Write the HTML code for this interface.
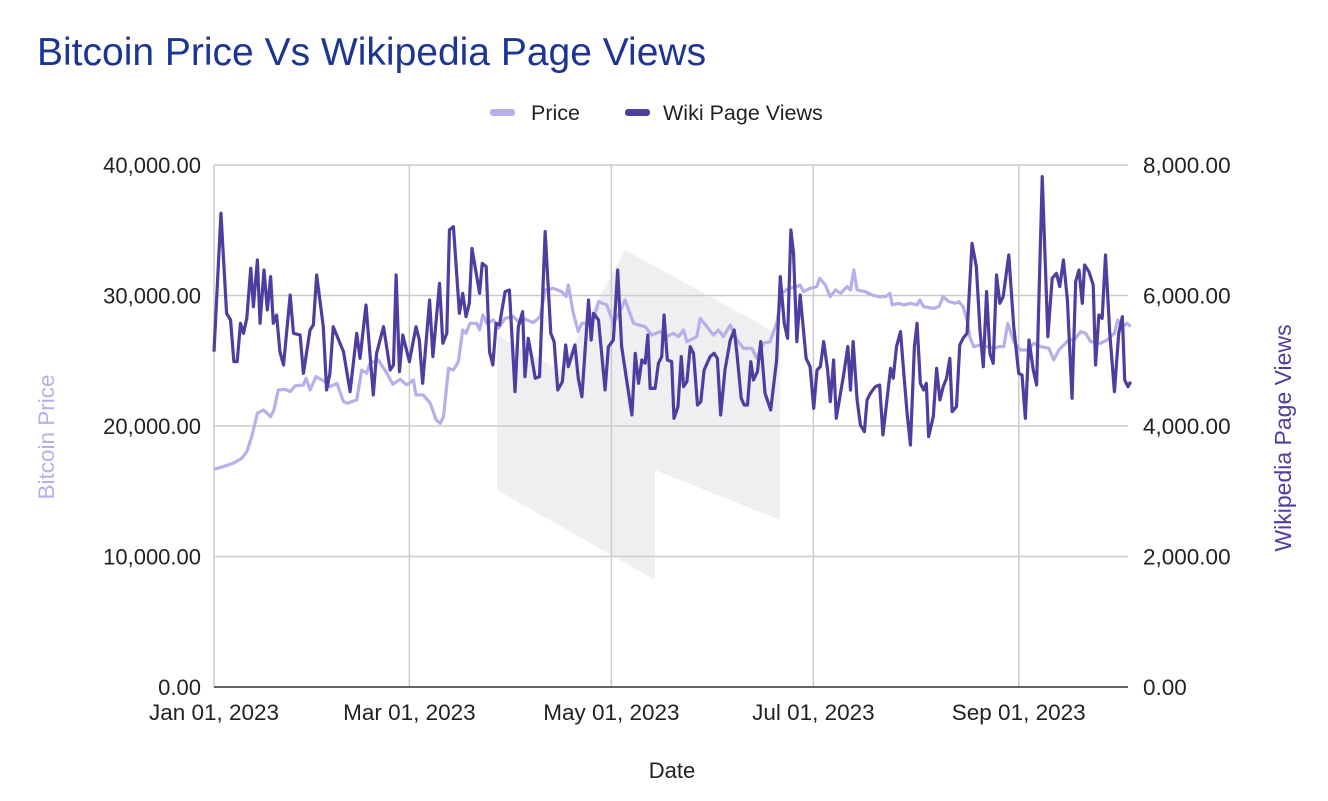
<!DOCTYPE html>
<html><head><meta charset="utf-8"><style>
body{margin:0;background:#fff;width:1328px;height:796px;overflow:hidden;font-family:"Liberation Sans",Arial,sans-serif}
</style></head><body>
<svg id="chart" width="1328" height="796" xmlns="http://www.w3.org/2000/svg" font-family="Liberation Sans, Arial, sans-serif">
<text x="37" y="65" font-size="39" fill="#1d3592">Bitcoin Price Vs Wikipedia Page Views</text>
<g>
<g><rect x="490" y="109" width="25" height="7" rx="3" fill="#b8aeea"/><text x="531" y="120" font-size="21.5" fill="#222">Price</text></g>
<g><rect x="625" y="109" width="25" height="7" rx="3" fill="#4e3ea0"/><text x="663" y="120" font-size="21.5" fill="#222">Wiki Page Views</text></g>
</g>
<polygon points="497,335 560,370 625,250 780,335 780,520 655,470 655,580 497,490" fill="#efeff2"/>
<g id="grid"></g>
<g id="axes"></g>
<g id="series"></g>
<text x="672" y="778" font-size="22" text-anchor="middle" fill="#222">Date</text>
<text transform="translate(54,437) rotate(-90)" font-size="22.5" text-anchor="middle" fill="#b8aeea">Bitcoin Price</text>
<text transform="translate(1291,438) rotate(-90)" font-size="23" text-anchor="middle" fill="#4e3ea0">Wikipedia Page Views</text>
</svg>
<script>
const leftTicks=[0,10000,20000,30000,40000];
const rightTicks=[0,2000,4000,6000,8000];
const xTickDays=[0,59,120,181,243];
const xTickLabels=["Jan 01, 2023","Mar 01, 2023","May 01, 2023","Jul 01, 2023","Sep 01, 2023"];
const wikiDays=[0,2.1,3.8,5,6,7,8,8.9,9.9,11.1,11.9,13.1,13.9,15.1,16.1,17.1,17.9,18.9,19.9,21,23,24,26,27,29,30,31,33,34,35,36,39.1,41.1,43.1,44.1,45.9,48.1,49.1,51.2,53.2,54.2,55,56,57,59,61,62,63,65.1,66.1,68.1,69.1,70.3,71.1,72.3,74.1,75.1,76.1,77.1,77.9,80.2,81,82.2,83.2,84.2,85.2,86.2,87.9,89.2,90.9,91.9,93.2,93.9,94.9,95.9,97,98.3,100,101.7,102.7,103.8,105.2,106.2,107,109,110,111.1,113.1,113.9,114.6,116.1,118.1,119.1,120.6,121.9,123.1,124.6,126.2,127.2,128.2,129.2,130.2,131,131.7,133.2,134.2,135.2,135.9,136.9,138.2,138.9,140.1,141.1,141.8,142.8,143.8,144.8,146,147,148,149.8,151,152,153,154.3,155.9,157.1,157.9,159.2,160.1,161.1,162.1,162.9,164.1,165.1,166.4,168.1,169.9,171,172.2,173.2,174.2,175,176,177,178.8,180,181.1,182.1,183.1,184.1,185.3,186.1,187.1,187.9,190.2,191.4,192.2,193,194.2,195.2,196.4,197.2,198.2,199.7,201,202,204.3,205.1,206.1,207.3,208.3,209.3,210.3,211.5,212.3,213.3,214.3,215.1,215.8,217.2,218.2,219.2,220.2,221.2,222.2,222.9,224.2,225.2,226.2,227.4,228.9,230.2,231.3,232.3,233.3,234.3,235.3,236.3,237.3,238.3,240,241.5,243,244,245,246.1,247.4,248.4,250.1,251.8,253.1,254.4,255.4,256.5,257.7,259.1,260.2,261.2,262.2,262.9,264.2,265.5,266.2,267.2,268.2,269.2,270.5,271.9,273.2,274.3,275,276,276.8];
const wikiViews=[5139,7260,5727,5625,4986,4986,5574,5420,5650,6417,5829,6544,5574,6391,5778,6289,5574,5701,5139,4935,6008,5420,5395,4807,5471,5548,6314,5522,4552,4807,5522,5139,4526,5420,5037,5855,4475,5114,5522,4858,4935,6314,4833,5395,4986,5522,5318,4654,5931,5063,6187,5267,5420,7004,7055,5727,6033,5676,5880,6723,6033,6493,6442,5139,4935,5574,5548,6059,6084,4526,5522,5752,4756,5344,5063,4731,4756,6979,5420,5293,4552,4679,5241,4909,5241,4731,4449,5931,5318,5727,5625,4552,5216,5318,6391,5216,4705,4169,5114,4654,5012,4961,5395,4577,4577,4961,5063,5701,5012,4986,4118,4296,5063,4603,4679,5216,5114,4322,4373,4858,5063,5114,5037,4169,4858,5318,5471,5114,4424,4322,4322,4986,4705,4833,5293,4501,4245,5012,6289,5574,5344,7004,6647,5293,6008,5037,4909,4271,4858,4909,5293,4858,4373,5012,4118,4807,5216,4552,5293,4399,4015,3913,4399,4501,4603,4628,3862,4884,4731,5216,5446,4807,4194,3709,5216,5574,4654,4552,4654,3837,4143,4884,4399,4603,4731,5037,4220,4296,5241,5344,5420,6800,6442,5471,4909,6059,5114,4961,6314,5880,5982,6621,5522,4807,4782,4118,5318,4858,4628,7822,5369,6263,6340,6136,6544,5931,4424,6212,6391,5880,6468,6365,6161,4935,5701,5650,6621,5420,4526,5420,5676,4705,4603,4679];
const priceDays=[0,2.8,5.8,8.4,9.9,11.4,13.1,14.9,17.1,18.1,19.4,21.4,23,24.5,27,27.8,29,30.8,33.5,35,37.1,39.1,40.3,41.6,43.1,44.6,46.1,47.1,49.6,52.2,54,56.2,58.2,60.2,61,63.2,65.3,67.1,68.3,69.3,70.8,72.3,73.8,75.1,76.1,77.3,79.3,80.2,81.2,82.4,84.4,85.9,87.9,90.4,92.4,93.4,96.4,98.5,100,102.5,105,106.3,107,108.5,110,111.1,112.6,114.6,116.1,118.6,120.6,122.6,124.1,126.7,128.2,130.2,132.2,134.7,136.7,138.7,140.3,141.8,142.8,145.8,146.8,148.8,150.8,152.3,153.8,155.9,157.9,159.9,162.4,163.9,165.9,167.9,169.9,171.5,173.5,176,177,178,180,182,182.9,184.6,186.1,187.7,189.2,191.2,192.2,193.2,194.2,196.7,198.7,200.7,202.8,204.1,204.8,206.8,208.3,210.3,212.3,213.1,214.3,217.4,218.9,220.2,221.9,223.9,224.9,226.2,227.4,228.2,229.4,231.5,233.5,235.5,237,238.5,239.7,241.5,243.5,245.6,247.6,249.6,252.1,253.6,255.1,257.6,260.2,261.7,263.2,264.7,267.7,269.7,271.9,272.9,274.3,275.8,276.8];
const priceValues=[16680,16888,17143,17526,18036,19186,20974,21229,20718,21229,22762,22813,22634,23068,23144,23655,22762,23782,23399,23016,23272,21867,21740,21867,21995,24294,24039,24805,25060,24039,23195,23578,23144,23527,22379,22379,21740,20463,20207,20718,24422,24294,24933,27358,27103,27869,27869,27358,28508,27869,28124,27486,28252,28380,27869,28252,27920,28380,30424,30551,30296,29913,30806,28636,27231,27869,27869,28124,29530,29274,27869,28763,29657,27869,27742,27614,26975,27231,26848,27103,26848,27358,26465,26848,28252,27614,26975,27358,26848,27742,26592,25954,25954,25188,26337,26465,27869,30168,30551,30679,30806,30296,30551,30679,31317,30806,29913,30424,30168,30679,30424,31956,30424,30296,30040,29913,29913,30168,29274,29402,29274,29402,29274,29657,29146,29019,29146,29913,29530,29402,29530,29146,28124,26848,26082,26209,26082,25954,26082,26082,27869,26465,25826,25826,26337,26082,25954,25060,25826,26465,26720,27231,27103,26465,26337,26592,27103,28124,27614,27869,27614];

const NS="http://www.w3.org/2000/svg";
const X0=214,X1=1128,Y0=687,Y1=165,DAYS=276;
const xs=d=>X0+(X1-X0)*d/DAYS;
const yL=v=>Y0-(Y0-Y1)*v/40000;
const yR=v=>Y0-(Y0-Y1)*v/8000;
function mk(tag,attrs,parent){const e=document.createElementNS(NS,tag);for(const k in attrs)e.setAttribute(k,attrs[k]);parent.appendChild(e);return e;}
const grid=document.getElementById('grid'),axes=document.getElementById('axes'),series=document.getElementById('series');
const fmt=v=>v.toLocaleString('en-US',{minimumFractionDigits:2,maximumFractionDigits:2});
leftTicks.forEach((t,i)=>{
  const y=yL(t);
  if(t>0){const g=mk('line',{x1:X0,x2:X1,y1:y,y2:y,stroke:'#cccccc','stroke-width':1.5},grid);
  
  }
  const l=mk('text',{x:201,y:y+8,'font-size':22,'text-anchor':'end',fill:'#222'},axes);l.textContent=fmt(t);
  
  
});
rightTicks.forEach(t=>{
  const r=mk('text',{x:1143,y:yR(t)+8,'font-size':22.5,fill:'#222'},axes);r.textContent=fmt(t);
  
  
});
xTickDays.forEach((d,i)=>{
  const x=xs(d);
  if(d>0){const g=mk('line',{x1:x,x2:x,y1:Y1,y2:Y0,stroke:'#cccccc','stroke-width':1.5},grid);
  
  }
  const l=mk('text',{x:x,y:720,'font-size':22.5,'text-anchor':'middle',fill:'#222'},axes);l.textContent=xTickLabels[i];
  
  
});
const la=mk('line',{x1:X0,x2:X0,y1:Y1,y2:Y0,stroke:'#cccccc','stroke-width':1.5},grid);


const ba=mk('line',{x1:X0,x2:X1,y1:Y0,y2:Y0,stroke:'#333','stroke-width':1.5},axes);


const pp=mk('polyline',{points:priceDays.map((d,i)=>xs(d)+','+yL(priceValues[i])).join(' '),fill:'none',stroke:'#b8aeea','stroke-width':3.2,'stroke-linejoin':'round'},series);


const wp=mk('polyline',{points:wikiDays.map((d,i)=>xs(d)+','+yR(wikiViews[i])).join(' '),fill:'none',stroke:'#4e3ea0','stroke-width':3.2,'stroke-linejoin':'round'},series);


</script>
</body></html>
